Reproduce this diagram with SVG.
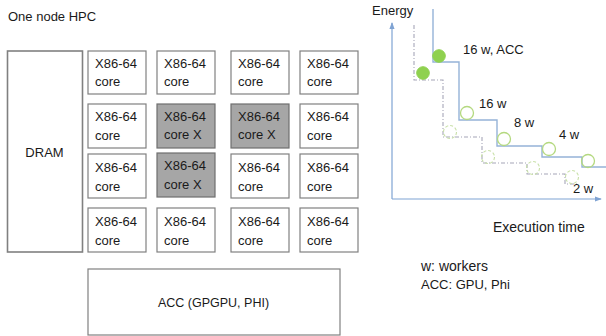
<svg xmlns="http://www.w3.org/2000/svg" width="606" height="336" viewBox="0 0 606 336">
<defs>
<style>
text{font-family:"Liberation Sans",Arial,sans-serif;font-size:13px;fill:#1a1a1a}
.box{fill:#fff;stroke:#808080;stroke-width:1.2}
.shade{fill:#a6a6a6;stroke:#6f6f6f;stroke-width:1.2}
.axis{fill:none;stroke:#7fa3d3;stroke-width:1.2}
.step{fill:none;stroke:#95b3d7;stroke-width:1.4}
.dstep{fill:none;stroke:#a6a6b8;stroke-width:1.1;stroke-dasharray:4 2 1 2}
.full{fill:#8fd14f;stroke:#8fd14f}
.open{fill:none;stroke:#b4d97f;stroke-width:1.3}
.dash{fill:none;stroke:#c8e0a8;stroke-width:1.1;stroke-dasharray:3 2}
</style>
<marker id="ah" viewBox="0 0 8 8" refX="7" refY="4" markerWidth="6" markerHeight="6" orient="auto">
<path d="M0,1 L8,4 L0,7 Z" fill="#7fa3d3"/>
</marker>
</defs>
<rect width="606" height="336" fill="#fff"/>
<text x="8" y="21">One node HPC</text>

<g id="dram"><rect class="box" x="7.5" y="51" width="75" height="201" style="stroke-width:1.6"/><text x="44.5" y="157" text-anchor="middle">DRAM</text></g>

<g id="core-1-1"><rect class="box" x="88" y="51" width="58" height="43"/><text x="95" y="68">X86-64</text><text x="95" y="86">core</text></g>
<g id="core-1-2"><rect class="box" x="157" y="51" width="58" height="43"/><text x="164" y="68">X86-64</text><text x="164" y="86">core</text></g>
<g id="core-1-3"><rect class="box" x="231" y="51" width="58" height="43"/><text x="238" y="68">X86-64</text><text x="238" y="86">core</text></g>
<g id="core-1-4"><rect class="box" x="300" y="51" width="58" height="43"/><text x="307" y="68">X86-64</text><text x="307" y="86">core</text></g>

<g id="core-2-1"><rect class="box" x="88" y="104" width="58" height="44"/><text x="95" y="121">X86-64</text><text x="95" y="140">core</text></g>
<g id="core-2-2"><rect class="shade" x="157" y="104" width="58" height="44"/><text x="164" y="121">X86-64</text><text x="164" y="139">core X</text></g>
<g id="core-2-3"><rect class="shade" x="231" y="104" width="58" height="44"/><text x="238" y="121">X86-64</text><text x="238" y="139">core X</text></g>
<g id="core-2-4"><rect class="box" x="300" y="104" width="58" height="44"/><text x="307" y="121">X86-64</text><text x="307" y="140">core</text></g>

<g id="core-3-1"><rect class="box" x="88" y="154" width="58" height="44"/><text x="95" y="172">X86-64</text><text x="95" y="191">core</text></g>
<g id="core-3-2"><rect class="shade" x="157" y="153" width="58" height="44"/><text x="164" y="170">X86-64</text><text x="164" y="189">core X</text></g>
<g id="core-3-3"><rect class="box" x="231" y="154" width="58" height="44"/><text x="238" y="172">X86-64</text><text x="238" y="191">core</text></g>
<g id="core-3-4"><rect class="box" x="300" y="154" width="58" height="44"/><text x="307" y="172">X86-64</text><text x="307" y="191">core</text></g>

<g id="core-4-1"><rect class="box" x="88" y="208" width="58" height="44"/><text x="95" y="226">X86-64</text><text x="95" y="245">core</text></g>
<g id="core-4-2"><rect class="box" x="157" y="208" width="58" height="44"/><text x="164" y="226">X86-64</text><text x="164" y="245">core</text></g>
<g id="core-4-3"><rect class="box" x="231" y="208" width="58" height="44"/><text x="238" y="226">X86-64</text><text x="238" y="245">core</text></g>
<g id="core-4-4"><rect class="box" x="300" y="208" width="58" height="44"/><text x="307" y="226">X86-64</text><text x="307" y="245">core</text></g>

<g id="acc"><rect class="box" x="88" y="269" width="252" height="66"/><text x="213.5" y="307" text-anchor="middle" style="font-size:12.5px">ACC (GPGPU, PHI)</text></g>

<text x="372" y="15">Energy</text>

<g id="connectors">
<path class="axis" d="M392,199 V23" marker-end="url(#ah)"/>
<path class="axis" d="M392,199 H601" marker-end="url(#ah)"/>
<path class="step" d="M433,9 V62 H459 V120 H497 V146 H542 V157 H582 V167 H606"/>
<path class="dstep" d="M414,25 V80 H443 V137 H482 V163 H527 V174 H565 V184 H578"/>
</g>

<g id="points">
<circle class="full" cx="439" cy="56" r="6.3"/>
<circle class="full" cx="423" cy="73" r="6.3"/>
<circle class="open" cx="467" cy="113" r="6.5"/>
<circle class="open" cx="504" cy="139" r="6.5"/>
<circle class="open" cx="549" cy="149" r="6.5"/>
<circle class="open" cx="588" cy="161" r="6.5"/>
<circle class="dash" cx="450" cy="132" r="6.5"/>
<circle class="dash" cx="488" cy="157" r="6.5"/>
<circle class="dash" cx="533" cy="168" r="6.5"/>
<circle class="dash" cx="572" cy="177" r="6.5"/>
</g>

<text x="463" y="54">16 w, ACC</text>
<text x="479" y="108">16 w</text>
<text x="514" y="127">8 w</text>
<text x="559" y="139">4 w</text>
<text x="573" y="193">2 w</text>
<text x="493" y="232" style="font-size:14px">Execution time</text>
<text x="421" y="271" style="font-size:14px">w: workers</text>
<text x="421" y="289">ACC: GPU, Phi</text>
</svg>
